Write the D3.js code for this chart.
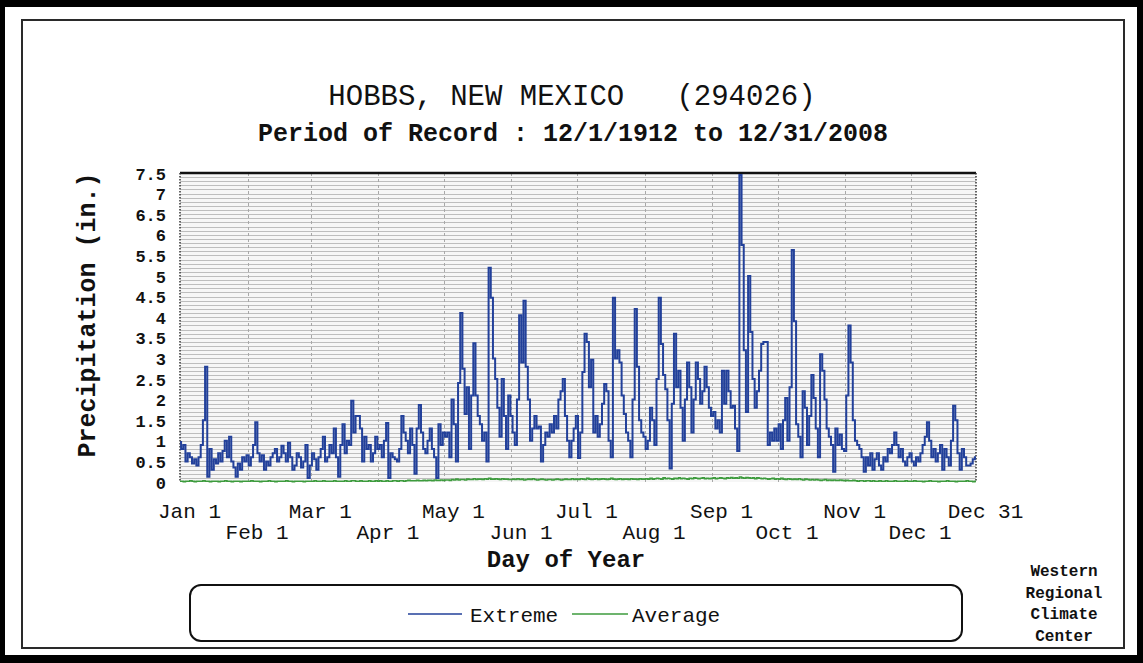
<!DOCTYPE html>
<html>
<head>
<meta charset="utf-8">
<script src="https://cdn.jsdelivr.net/npm/d3@7"></script>
<style>
  html, body { margin: 0; padding: 0; background: #fff; }
  svg { display: block; }
</style>
</head>
<body>
<svg id="chart" width="1143" height="663"></svg>
<script>
// Daily extreme precipitation (inches), day-of-year 0 (Jan 1) .. 365 (Dec 31)
const extreme = [
  // Jan
  0.97,0.8,0.9,0.5,0.7,0.6,0.45,0.55,0.4,0.6,0.9,1.5,2.8,0.13,0.8,0.3,0.55,0.45,0.7,0.5,0.75,1.0,0.6,1.1,0.5,0.35,0.13,0.45,0.3,0.6,0.5,
  // Feb
  0.65,0.4,0.6,0.9,1.45,0.7,0.5,0.65,0.3,0.5,0.4,0.6,0.7,0.8,0.5,0.6,0.88,0.7,0.5,0.95,0.6,0.3,0.4,0.7,0.6,0.35,0.5,0.9,0.1,
  // Mar
  0.4,0.7,0.55,0.3,0.6,0.8,1.1,0.5,0.6,0.9,0.7,1.3,0.6,0.13,0.9,1.4,0.7,1.0,0.9,1.97,1.2,1.6,1.6,1.3,0.5,1.1,0.8,0.9,0.5,0.7,1.1,
  // Apr
  0.8,0.9,0.6,1.0,1.43,0.1,0.7,0.6,0.55,0.5,0.8,1.6,1.2,1.0,0.7,1.3,0.9,0.2,1.3,1.87,1.2,0.8,0.7,1.0,1.3,0.8,0.6,0.1,1.4,0.9,
  // May
  1.2,1.1,1.2,0.6,2.0,1.4,0.5,2.4,4.1,2.75,1.65,2.3,0.8,2.1,3.37,2.1,1.6,1.4,1.0,1.2,0.5,5.2,4.47,3.0,2.5,1.8,1.1,2.5,1.6,0.8,2.1,
  // Jun
  1.6,1.2,0.9,2.0,4.05,2.9,4.4,2.8,2.0,1.0,1.3,1.6,1.3,1.35,0.5,0.9,1.2,1.1,1.4,1.2,1.6,1.3,2.0,2.2,2.5,1.6,1.0,0.6,1.0,1.3,
  // Jul
  1.6,0.58,1.2,2.67,3.6,3.4,2.3,2.97,1.2,1.6,1.1,1.4,1.9,2.38,2.2,1.0,0.6,4.47,3.0,3.2,2.9,2.1,1.65,1.2,1.0,0.6,2.0,4.2,2.8,1.5,1.2,
  // Aug
  1.1,0.8,1.0,1.8,1.5,0.9,2.5,4.47,3.35,2.6,2.25,1.5,0.33,1.9,3.6,2.3,2.7,1.8,1.0,2.0,2.9,2.3,1.2,2.0,2.9,2.5,1.9,2.2,2.8,2.3,1.8,
  // Sep
  1.6,1.7,1.3,1.5,1.2,2.7,1.9,2.7,2.2,1.8,1.85,1.3,0.75,7.45,5.75,3.2,1.7,5.0,3.64,2.5,1.8,2.2,2.7,3.35,3.4,3.4,0.9,1.2,1.0,1.3,
  // Oct
  1.0,1.4,0.8,1.5,2.04,1.0,2.3,5.63,3.9,1.4,1.1,0.6,2.2,1.8,0.9,1.6,2.6,2.04,1.3,0.6,3.1,2.7,2.0,1.3,1.1,0.9,0.25,1.3,0.9,1.15,0.8,
  // Nov
  0.75,2.1,3.8,2.9,1.5,1.0,0.9,0.8,0.6,0.25,0.6,0.4,0.7,0.3,0.55,0.7,0.4,0.3,0.6,0.5,0.8,0.7,0.9,1.2,0.9,0.6,0.8,0.5,0.4,0.6,
  // Dec
  0.7,0.5,0.4,0.6,0.5,0.7,0.9,1.1,1.45,1.0,0.6,0.8,0.5,0.7,0.9,0.3,0.8,0.6,0.4,1.0,1.85,1.5,0.7,0.3,0.8,0.6,0.4,0.4,0.45,0.55,0.6
];

// Daily average precipitation (inches)
const average = [
  // Jan
  0.02,0.02,0.01,0.02,0.02,0.03,0.02,0.01,0.02,0.02,0.02,0.03,0.02,0.02,0.01,0.02,0.02,0.02,0.01,0.02,0.02,0.03,0.02,0.02,0.01,0.02,0.02,0.02,0.01,0.02,0.02,
  // Feb
  0.02,0.02,0.03,0.02,0.02,0.02,0.01,0.02,0.02,0.02,0.03,0.02,0.02,0.01,0.02,0.02,0.02,0.02,0.03,0.02,0.02,0.01,0.02,0.02,0.02,0.02,0.01,0.02,0.02,
  // Mar
  0.02,0.02,0.03,0.02,0.02,0.02,0.03,0.02,0.02,0.02,0.02,0.03,0.02,0.02,0.02,0.02,0.03,0.02,0.02,0.03,0.03,0.02,0.02,0.03,0.02,0.02,0.02,0.03,0.02,0.02,0.03,
  // Apr
  0.02,0.03,0.02,0.02,0.03,0.02,0.02,0.03,0.03,0.02,0.03,0.03,0.02,0.03,0.04,0.03,0.03,0.03,0.04,0.03,0.03,0.04,0.03,0.04,0.04,0.03,0.05,0.04,0.04,0.05,
  // May
  0.04,0.05,0.05,0.04,0.06,0.05,0.07,0.05,0.06,0.06,0.05,0.07,0.06,0.06,0.08,0.06,0.07,0.07,0.06,0.08,0.07,0.09,0.07,0.07,0.08,0.07,0.06,0.08,0.07,0.07,0.06,
  // Jun
  0.06,0.07,0.06,0.08,0.06,0.07,0.05,0.06,0.07,0.06,0.08,0.06,0.05,0.06,0.07,0.06,0.05,0.06,0.06,0.05,0.06,0.07,0.06,0.05,0.06,0.07,0.06,0.06,0.08,0.06,
  // Jul
  0.07,0.06,0.08,0.07,0.06,0.09,0.07,0.06,0.07,0.08,0.06,0.07,0.08,0.07,0.06,0.07,0.09,0.07,0.06,0.07,0.08,0.06,0.07,0.07,0.06,0.08,0.07,0.07,0.06,0.08,0.07,
  // Aug
  0.07,0.08,0.07,0.09,0.07,0.08,0.09,0.08,0.07,0.10,0.08,0.09,0.08,0.07,0.09,0.08,0.10,0.08,0.09,0.08,0.07,0.09,0.08,0.10,0.09,0.08,0.09,0.10,0.08,0.09,0.08,
  // Sep
  0.09,0.10,0.08,0.09,0.10,0.09,0.08,0.10,0.09,0.11,0.09,0.10,0.09,0.12,0.10,0.09,0.11,0.10,0.09,0.10,0.08,0.10,0.09,0.08,0.09,0.08,0.07,0.08,0.09,0.07,
  // Oct
  0.08,0.07,0.09,0.07,0.06,0.08,0.07,0.06,0.07,0.06,0.08,0.06,0.05,0.07,0.06,0.05,0.06,0.05,0.06,0.05,0.04,0.05,0.06,0.04,0.05,0.04,0.05,0.04,0.04,0.05,0.04,
  // Nov
  0.03,0.04,0.03,0.03,0.04,0.03,0.02,0.03,0.03,0.02,0.03,0.03,0.02,0.03,0.02,0.02,0.03,0.02,0.02,0.03,0.02,0.02,0.02,0.03,0.02,0.02,0.02,0.02,0.03,0.02,
  // Dec
  0.02,0.02,0.03,0.02,0.02,0.02,0.01,0.02,0.02,0.03,0.02,0.02,0.02,0.01,0.02,0.02,0.02,0.03,0.02,0.02,0.02,0.01,0.02,0.02,0.02,0.02,0.03,0.02,0.02,0.01,0.02
];

// Axis ticks
const monthDays   = [0, 31, 60, 91, 121, 152, 182, 213, 244, 274, 305, 335, 365];
const monthLabels = ["Jan 1","Feb 1","Mar 1","Apr 1","May 1","Jun 1","Jul 1","Aug 1","Sep 1","Oct 1","Nov 1","Dec 1","Dec 31"];
const yTicks = [0,0.5,1,1.5,2,2.5,3,3.5,4,4.5,5,5.5,6,6.5,7,7.5];

const seriesNames = ["Extreme", "Average"];
const seriesColors = ["#22409a", "#3d9b3d"];

if (extreme.length !== 366 || average.length !== 366) {
  throw new Error("series length " + extreme.length + " / " + average.length);
}

const svg = d3.select("#chart");
const W = 1143, H = 663;
const MONO = "'Liberation Mono', 'DejaVu Sans Mono', monospace";

// Page frame
svg.append("rect").attr("x", 0).attr("y", 0).attr("width", W).attr("height", H).attr("fill", "#000");
svg.append("rect").attr("x", 5).attr("y", 7).attr("width", W - 11).attr("height", H - 15).attr("fill", "#fff");
svg.append("rect").attr("x", 22).attr("y", 20).attr("width", 1102).attr("height", 628)
  .attr("fill", "none").attr("stroke", "#2a2a2a").attr("stroke-width", 2);

const plot = { left: 180, right: 976, top: 173, bottom: 482 };

const x = d3.scaleLinear().domain([0, 365]).range([plot.left, plot.right]);
const y = d3.scaleLinear().domain([0, 7.5]).range([plot.bottom, plot.top]);

// Plot background
svg.append("rect")
  .attr("x", plot.left).attr("y", plot.top)
  .attr("width", plot.right - plot.left).attr("height", plot.bottom - plot.top)
  .attr("fill", "#f6f6f6");

// Horizontal grid every 0.1 in.
const hGrid = d3.range(1, 75).map(i => i / 10);
svg.append("g").selectAll("line").data(hGrid).join("line")
  .attr("x1", plot.left).attr("x2", plot.right)
  .attr("y1", d => Math.round(y(d)) + 0.5).attr("y2", d => Math.round(y(d)) + 0.5)
  .attr("stroke", "#bdbdbd").attr("stroke-width", 1);

// Vertical month grid
svg.append("g").selectAll("line").data(monthDays.slice(1, -1)).join("line")
  .attr("x1", d => Math.round(x(d)) + 0.5).attr("x2", d => Math.round(x(d)) + 0.5)
  .attr("y1", plot.top).attr("y2", plot.bottom)
  .attr("stroke", "#a8a8a8").attr("stroke-width", 1).attr("stroke-dasharray", "3,3");

// Plot borders: solid top, dotted sides
svg.append("line").attr("x1", plot.left).attr("x2", plot.right)
  .attr("y1", plot.top).attr("y2", plot.top).attr("stroke", "#111").attr("stroke-width", 2.5);
[plot.left, plot.right].forEach(px => {
  svg.append("line").attr("x1", px).attr("x2", px).attr("y1", plot.top).attr("y2", plot.bottom)
    .attr("stroke", "#333").attr("stroke-width", 1.5).attr("stroke-dasharray", "1.5,1.5");
});

// Series lines
const line = d3.line()
  .x((d, i) => x(i))
  .y(d => y(d))
  .curve(d3.curveStep);

svg.append("path").datum(average)
  .attr("fill", "none").attr("stroke", seriesColors[1]).attr("stroke-width", 1.6)
  .attr("d", line);

svg.append("path").datum(extreme)
  .attr("fill", "none").attr("stroke", seriesColors[0]).attr("stroke-width", 2)
  .attr("stroke-linejoin", "miter")
  .attr("d", line);

// Y axis labels
const yAxis = d3.axisLeft(y).tickValues(yTicks).tickSize(0).tickPadding(0)
  .tickFormat(d3.format("~g"));
const gy = svg.append("g").attr("transform", `translate(166,0)`).call(yAxis);
gy.select(".domain").remove();
gy.selectAll("text")
  .attr("font-family", MONO).attr("font-size", 17).attr("font-weight", "bold")
  .attr("fill", "#111").attr("dy", "0.36em");

// X axis labels in two staggered rows
const xAxis = d3.axisBottom(x).tickValues(monthDays).tickSize(0).tickPadding(0)
  .tickFormat((d, i) => monthLabels[i]);
const gx = svg.append("g").attr("transform", `translate(9,0)`).call(xAxis);
gx.select(".domain").remove();
gx.selectAll("text")
  .attr("font-family", MONO).attr("font-size", 21).attr("fill", "#111")
  .attr("y", (d, i) => (i % 2 === 0 || i === monthDays.length - 1) ? 518 : 539)
  .attr("dy", 0);

// Titles
svg.append("text").attr("x", 572).attr("y", 105).attr("text-anchor", "middle")
  .attr("font-family", MONO).attr("font-size", 29).attr("fill", "#111")
  .attr("xml:space", "preserve").style("white-space", "pre")
  .text("HOBBS, NEW MEXICO   (294026)");

svg.append("text").attr("x", 573).attr("y", 141).attr("text-anchor", "middle")
  .attr("font-family", MONO).attr("font-size", 25).attr("font-weight", "bold").attr("fill", "#111")
  .text("Period of Record : 12/1/1912 to 12/31/2008");

svg.append("text").attr("x", 566).attr("y", 567).attr("text-anchor", "middle")
  .attr("font-family", MONO).attr("font-size", 24).attr("font-weight", "bold").attr("fill", "#111")
  .text("Day of Year");

svg.append("text")
  .attr("transform", "translate(95,315) rotate(-90)")
  .attr("text-anchor", "middle")
  .attr("font-family", MONO).attr("font-size", 25).attr("font-weight", "bold").attr("fill", "#111")
  .text("Precipitation (in.)");

// Legend
svg.append("rect").attr("x", 190).attr("y", 585).attr("width", 772).attr("height", 56)
  .attr("rx", 11).attr("ry", 11)
  .attr("fill", "#fff").attr("stroke", "#111").attr("stroke-width", 2);

const legendItems = [
  { name: seriesNames[0], color: seriesColors[0], x1: 408, x2: 462, tx: 470 },
  { name: seriesNames[1], color: seriesColors[1], x1: 572, x2: 628, tx: 632 }
];
legendItems.forEach(it => {
  svg.append("line").attr("x1", it.x1).attr("x2", it.x2).attr("y1", 614).attr("y2", 614)
    .attr("stroke", it.color).attr("stroke-width", 1.6);
  svg.append("text").attr("x", it.tx).attr("y", 622)
    .attr("font-family", MONO).attr("font-size", 21).attr("fill", "#111")
    .text(it.name);
});

// Credit block
["Western", "Regional", "Climate", "Center"].forEach((t, i) => {
  svg.append("text").attr("x", 1064).attr("y", 576 + i * 21.5).attr("text-anchor", "middle")
    .attr("font-family", MONO).attr("font-size", 16).attr("font-weight", "bold").attr("fill", "#111")
    .text(t);
});
</script>
</body>
</html>
